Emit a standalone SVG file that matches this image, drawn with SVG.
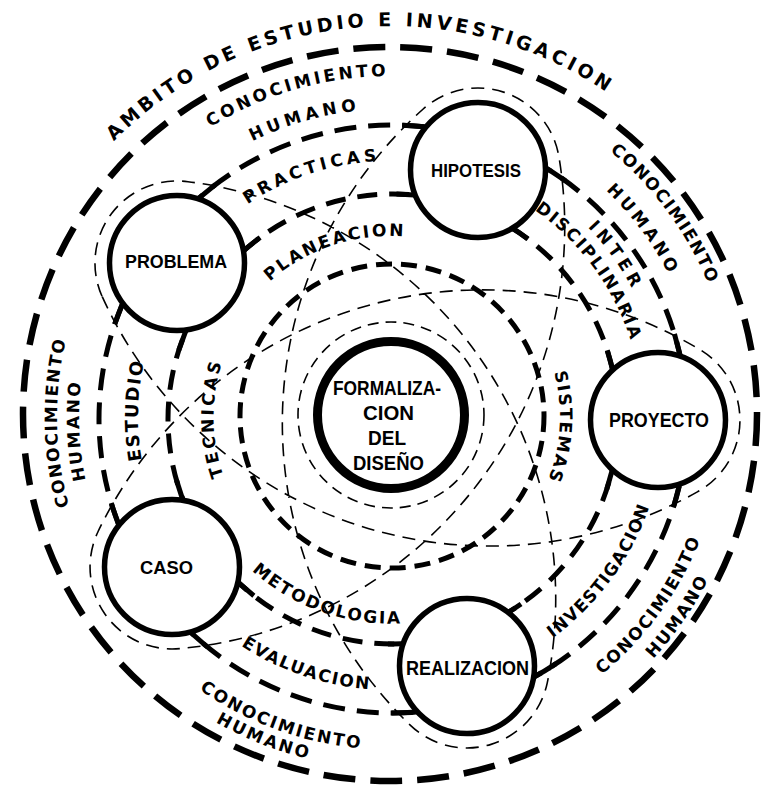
<svg xmlns="http://www.w3.org/2000/svg" width="762" height="787" viewBox="0 0 762 787">
<style>
.outer{fill:none;stroke:#000;stroke-width:6.5;stroke-dasharray:32 15}
.r2{fill:none;stroke:#000;stroke-width:5;stroke-dasharray:22 12}
.r3{fill:none;stroke:#000;stroke-width:5;stroke-dasharray:20 12}
.r4{fill:none;stroke:#000;stroke-width:5;stroke-dasharray:16 9}
.stub{fill:none;stroke:#000;stroke-width:5}
.thin{fill:none;stroke:#000;stroke-width:1.6;stroke-dasharray:13 8}
.nc{fill:#fff;stroke:#000;stroke-width:5.5}
.fc{fill:#fff;stroke:#000;stroke-width:9}
.lbl{font-family:"DejaVu Sans",sans-serif;font-size:17px;font-weight:bold;fill:#000}
.nt{font-family:"Liberation Sans",Arial,sans-serif;font-weight:bold;text-anchor:middle;fill:#000}
</style>
<defs>
<path id="pAmb" d="M14.4,316.8 A388,388 0 0 1 740.2,247.0"/>
<path id="pC1a" d="M78.5,278.3 A341,341 0 0 1 580.7,134.3"/>
<path id="pC1b" d="M108.6,291.7 A308,308 0 0 1 562.2,161.7"/>
<path id="pC2a" d="M411.1,72.6 A345,345 0 0 1 725.5,497.5"/>
<path id="pC2b" d="M409.1,104.6 A313,313 0 0 1 694.4,490.1"/>
<path id="pC3a" d="M180.4,675.8 A333,333 0 0 1 171.5,165.7"/>
<path id="pC3b" d="M200.7,663.7 A311,311 0 0 1 179.9,187.7"/>
<path id="pC4a" d="M413.3,749.7 A333.5,333.5 0 0 0 713.6,336.3"/>
<path id="pC4b" d="M423.0,773.0 A357.5,357.5 0 0 0 734.8,322.7"/>
<path id="pC5a" d="M77.7,531.3 A332.5,332.5 0 0 0 556.7,704.7"/>
<path id="pC5b" d="M56.7,528.5 A351.5,351.5 0 0 0 557.7,725.9"/>
<path id="pPra" d="M172.9,281.3 A256,256 0 0 1 485.9,179.6"/>
<path id="pPla" d="M221.8,350.1 A181,181 0 0 1 485.1,263.0"/>
<path id="pEst" d="M192.8,573.9 A252,252 0 0 1 201.3,250.0"/>
<path id="pTec" d="M255.8,531.6 A176.5,176.5 0 0 1 253.8,304.7"/>
<path id="pSis" d="M526.5,315.6 A170,170 0 0 1 513.5,533.8"/>
<path id="pMet" d="M196.8,490.0 A206.5,206.5 0 0 0 495.4,594.6"/>
<path id="pEva" d="M157.0,559.2 A273,273 0 0 0 489.6,671.2"/>
<path id="pInv" d="M455.0,683.7 A274.5,274.5 0 0 0 663.9,399.3"/>
<path id="pInt" d="M458.6,151.7 A274,274 0 0 1 663.2,438.5"/>
<path id="pDis" d="M406.7,165.1 A252.5,252.5 0 0 1 635.2,477.2"/>
</defs>
<rect width="762" height="787" fill="#fff"/>
<g id="connectors">
<circle class="outer" cx="390" cy="414" r="367"/>
<circle class="r2" cx="393" cy="419" r="294"/>
<circle class="r3" cx="393" cy="419" r="225"/>
<circle class="r4" cx="392" cy="416" r="152"/>
<circle class="thin" cx="391" cy="415" r="93" style="stroke-dasharray:11 7"/>
<circle class="stub" cx="393" cy="419" r="294" pathLength="360" style="stroke-dasharray:34 39.1 34 38.9 34 35.6 34 39.1 34 37.3;stroke-dashoffset:16.8"/>
<circle class="stub" cx="393" cy="419" r="225" pathLength="360" style="stroke-dasharray:36 37.1 36 36.9 36 33.6 36 37.1 36 35.3;stroke-dashoffset:17.8"/>
<path class="thin" d="M102.0,296.2 A82,82 0 0 1 188.0,181.7 A420.5,420.5 0 0 1 547.2,683.1 A82,82 0 0 1 410.2,725.1 A420.6,420.6 0 0 1 423.2,109.0 A82,82 0 0 1 558.6,155.0 A423.5,423.5 0 0 1 180.7,648.5 A82,82 0 0 1 98.1,531.5 A426.3,426.3 0 0 1 699.8,349.5 A82,82 0 0 1 697.4,491.9 A425.6,425.6 0 0 1 102.0,296.2"/>
</g>
<g id="labels" class="lbl">
<text style="font-size:19px;letter-spacing:3.8px"><textPath href="#pAmb" startOffset="50%" text-anchor="middle">AMBITO DE ESTUDIO E INVESTIGACION</textPath></text>
<text style="letter-spacing:3.2px"><textPath href="#pC1a" startOffset="50%" text-anchor="middle">CONOCIMIENTO</textPath></text>
<text style="letter-spacing:4.4px"><textPath href="#pC1b" startOffset="50%" text-anchor="middle">HUMANO</textPath></text>
<text style="letter-spacing:1.5px"><textPath href="#pC2a" startOffset="50%" text-anchor="middle">CONOCIMIENTO</textPath></text>
<text style="letter-spacing:3.5px"><textPath href="#pC2b" startOffset="50%" text-anchor="middle">HUMANO</textPath></text>
<text style="letter-spacing:1.6px"><textPath href="#pC3a" startOffset="50%" text-anchor="middle">CONOCIMIENTO</textPath></text>
<text style="letter-spacing:2.2px"><textPath href="#pC3b" startOffset="50%" text-anchor="middle">HUMANO</textPath></text>
<text style="letter-spacing:1.7px"><textPath href="#pC4a" startOffset="50%" text-anchor="middle">CONOCIMIENTO</textPath></text>
<text style="letter-spacing:1.9px"><textPath href="#pC4b" startOffset="50%" text-anchor="middle">HUMANO</textPath></text>
<text style="letter-spacing:2.1px"><textPath href="#pC5a" startOffset="50%" text-anchor="middle">CONOCIMIENTO</textPath></text>
<text style="letter-spacing:2.4px"><textPath href="#pC5b" startOffset="50%" text-anchor="middle">HUMANO</textPath></text>
<text style="letter-spacing:3.8px"><textPath href="#pPra" startOffset="50%" text-anchor="middle">PRACTICAS</textPath></text>
<text style="letter-spacing:2.4px"><textPath href="#pPla" startOffset="50%" text-anchor="middle">PLANEACION</textPath></text>
<text style="font-size:18px;letter-spacing:1.6px"><textPath href="#pEst" startOffset="50%" text-anchor="middle">ESTUDIO</textPath></text>
<text style="letter-spacing:2.9px"><textPath href="#pTec" startOffset="50%" text-anchor="middle">TECNICAS</textPath></text>
<text style="letter-spacing:1.8px"><textPath href="#pSis" startOffset="50%" text-anchor="middle">SISTEMAS</textPath></text>
<text style="letter-spacing:2px"><textPath href="#pMet" startOffset="50%" text-anchor="middle">METODOLOGIA</textPath></text>
<text style="letter-spacing:1.7px"><textPath href="#pEva" startOffset="50%" text-anchor="middle">EVALUACION</textPath></text>
<text style="letter-spacing:1.25px"><textPath href="#pInv" startOffset="50%" text-anchor="middle">INVESTIGACION</textPath></text>
<text style="letter-spacing:4.6px"><textPath href="#pInt" startOffset="50%" text-anchor="middle">INTER</textPath></text>
<text style="letter-spacing:1.9px"><textPath href="#pDis" startOffset="50%" text-anchor="middle">DISCIPLINARIA</textPath></text>
</g>
<g id="node-problema"><circle class="nc" cx="177" cy="263" r="67.5"/><text class="nt" x="176" y="268" font-size="18" textLength="102" lengthAdjust="spacingAndGlyphs">PROBLEMA</text></g>
<g id="node-hipotesis"><circle class="nc" cx="478" cy="170" r="67.5"/><text class="nt" x="476" y="177" font-size="19" textLength="90" lengthAdjust="spacingAndGlyphs">HIPOTESIS</text></g>
<g id="node-proyecto"><circle class="nc" cx="658" cy="420" r="67.5"/><text class="nt" x="659" y="427" font-size="20" textLength="100" lengthAdjust="spacingAndGlyphs">PROYECTO</text></g>
<g id="node-realizacion"><circle class="nc" cx="467" cy="666" r="67.5"/><text class="nt" x="467.5" y="675" font-size="20" textLength="123" lengthAdjust="spacingAndGlyphs">REALIZACION</text></g>
<g id="node-caso"><circle class="nc" cx="172" cy="567" r="67.5"/><text class="nt" x="166.5" y="574" font-size="19" textLength="53" lengthAdjust="spacingAndGlyphs">CASO</text></g>
<g id="node-formalizacion"><circle class="fc" cx="391" cy="415" r="73.5"/>
<text class="nt" x="387" y="395" font-size="21" textLength="108" lengthAdjust="spacingAndGlyphs">FORMALIZA-</text>
<text class="nt" x="388.5" y="420" font-size="21" textLength="51" lengthAdjust="spacingAndGlyphs">CION</text>
<text class="nt" x="387" y="445" font-size="21" textLength="38" lengthAdjust="spacingAndGlyphs">DEL</text>
<text class="nt" x="388.5" y="470" font-size="21" textLength="71" lengthAdjust="spacingAndGlyphs">DISEÑO</text>
</g>
</svg>
